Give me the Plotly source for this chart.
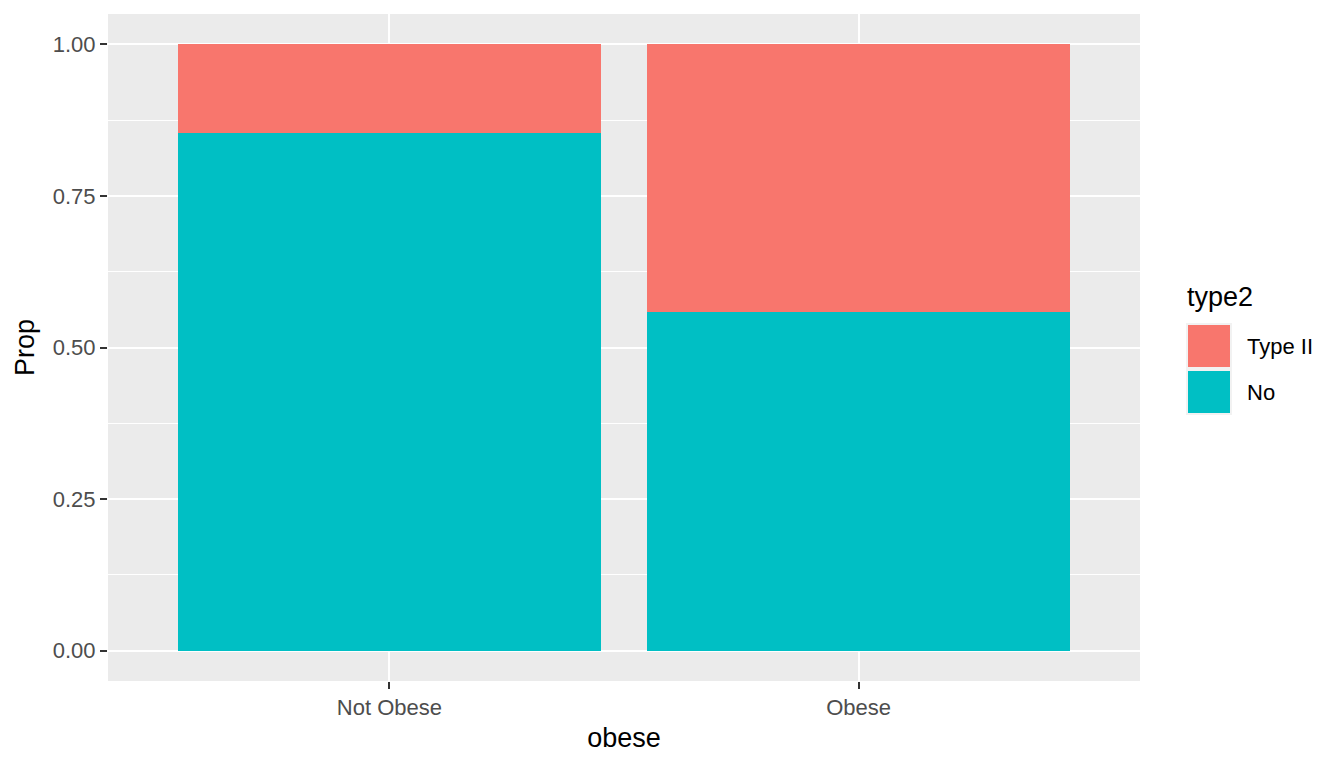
import plotly.graph_objects as go

categories = ["Not Obese", "Obese"]
no_prop = [0.853, 0.559]
type2_prop = [0.147, 0.441]
series_names = ["Type II", "No"]
colors = {"Type II": "#F8766D", "No": "#00BFC4"}
y_ticks = [0, 0.25, 0.5, 0.75, 1.0]
y_tick_text = ["0.00", "0.25", "0.50", "0.75", "1.00"]
y_minor = [0.125, 0.375, 0.625, 0.875]

fig = go.Figure()
fig.add_trace(go.Bar(x=categories, y=no_prop, name="No",
                     marker=dict(color=colors["No"], line=dict(width=0)), width=0.9))
fig.add_trace(go.Bar(x=categories, y=type2_prop, name="Type II",
                     marker=dict(color=colors["Type II"], line=dict(width=0)), width=0.9))

font_family = "Liberation Sans, Arial, sans-serif"
# page body has an 8px margin; compensate so the plot area lands at 108..1140 x 14..681
fig.update_layout(
    barmode="stack",
    width=1336, height=760,
    margin=dict(l=100, r=204, t=6, b=87),
    paper_bgcolor="white",
    plot_bgcolor="#EBEBEB",
    showlegend=False,
    font=dict(family=font_family),
)
fig.update_xaxes(
    type="category", range=[-0.6, 1.6],
    showgrid=True, gridcolor="white", gridwidth=2,
    ticks="outside", ticklen=7, tickcolor="#333333", tickwidth=1.7,
    tickfont=dict(size=22, color="#4D4D4D", family=font_family),
    title=dict(text="obese", font=dict(size=27, color="black"), standoff=8),
    zeroline=False, showline=False,
)
fig.update_yaxes(
    range=[-0.05, 1.05],
    tickvals=y_ticks, ticktext=y_tick_text,
    showgrid=True, gridcolor="white", gridwidth=2,
    minor=dict(tickvals=y_minor, showgrid=True, gridcolor="white", gridwidth=1, ticks=""),
    ticks="outside", ticklen=7, tickcolor="#333333", tickwidth=1.7,
    tickfont=dict(size=22, color="#4D4D4D", family=font_family),
    title=dict(text="Prop", font=dict(size=27, color="black"), standoff=10),
    zeroline=False, showline=False,
)

# ggplot-style legend drawn in paper coordinates
pl, pr, pt, pb = 108, 1140, 14, 681
def paper_x(x): return (x - pl) / (pr - pl)
def paper_y(y): return (pb - y) / (pb - pt)

fig.add_annotation(x=paper_x(1185), y=paper_y(297), xref="paper", yref="paper", text="type2",
                   showarrow=False, xanchor="left", yanchor="middle",
                   font=dict(size=27, color="black", family=font_family))
key_tops = [325, 371]
for name, top in zip(series_names, key_tops):
    fig.add_shape(type="rect", xref="paper", yref="paper",
                  x0=paper_x(1186), x1=paper_x(1232), y0=paper_y(top - 2), y1=paper_y(top + 44),
                  fillcolor="#F2F2F2", line=dict(width=0), layer="above")
    fig.add_shape(type="rect", xref="paper", yref="paper",
                  x0=paper_x(1188), x1=paper_x(1230), y0=paper_y(top), y1=paper_y(top + 42),
                  fillcolor=colors[name], line=dict(width=0), layer="above")
    fig.add_annotation(x=paper_x(1245), y=paper_y(top + 21), xref="paper", yref="paper", text=name,
                       showarrow=False, xanchor="left", yanchor="middle",
                       font=dict(size=22, color="black", family=font_family))

fig.write_html("out.html")
